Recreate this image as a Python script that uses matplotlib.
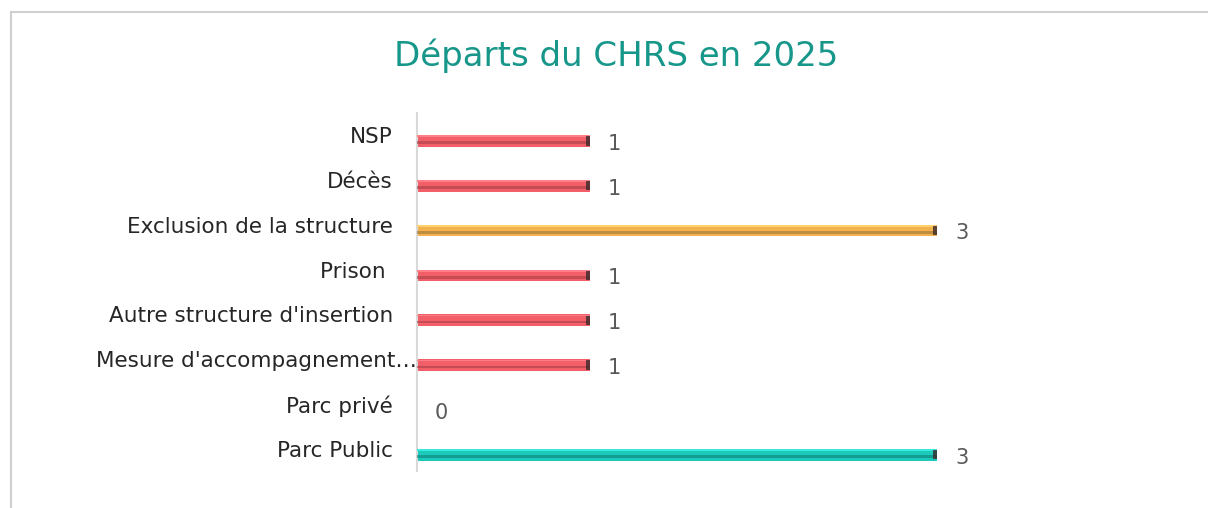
#!/usr/bin/env python3
"""Horizontal bar chart: Départs du CHRS en 2025."""

import matplotlib
matplotlib.use("Agg")
import matplotlib.pyplot as plt
import matplotlib.transforms as mtransforms
from matplotlib.lines import Line2D
from matplotlib.colors import to_rgb

# -------------------------------------------------
# Data (top to bottom as displayed)
# -------------------------------------------------
categories = [
    "NSP",
    "Décès",
    "Exclusion de la structure",
    "Prison ",
    "Autre structure d'insertion",
    "Mesure d'accompagnement…",
    "Parc privé",
    "Parc Public",
]
values = [1, 1, 3, 1, 1, 1, 0, 3]
groups = ["red", "red", "gold", "red", "red", "red", "red", "teal"]

# face colour, dark stripe colour
palette = {
    "red": ("#F25F69", "#A83E47"),
    "gold": ("#F2B24E", "#9E7536"),
    "teal": ("#1CCABC", "#0F7F76"),
}

TITLE = "Départs du CHRS en 2025"
TITLE_COLOR = "#17968A"
TEXT_COLOR = "#262626"
VALUE_COLOR = "#595959"


def main():
    plt.rcParams["font.family"] = ["DejaVu Sans"]

    fig = plt.figure(figsize=(12.08, 5.08), dpi=100)
    ax = fig.add_axes([0.3448, 0.0720, 0.5745, 0.7063])

    n = len(categories)
    pos = list(range(n))
    bar_off = 0.13   # bars sit a little below the label centre
    bar_h = 0.26

    for i, (v, g) in enumerate(zip(values, groups)):
        face, dark = palette[g]
        y = pos[i] + bar_off
        if v > 0:
            # main body
            ax.barh(y, v, height=bar_h, color=face, edgecolor="none", zorder=2)
            # darker lower stripe for the bevel look
            ax.barh(y + 0.04, v, height=0.06, color=dark, edgecolor="none",
                    alpha=0.6, zorder=3)
            # light top edge
            lt = tuple(min(1, c + 0.12) for c in to_rgb(face))
            ax.barh(y - 0.105, v, height=0.04, color=lt, edgecolor="none", zorder=3)
            # dark end cap
            ax.barh(y, 0.025, left=v - 0.025, height=bar_h * 0.8, color="#3a2a2a",
                    edgecolor="none", alpha=0.8, zorder=4)
        ax.annotate(str(v), xy=(v, y), xytext=(13, -2), textcoords="offset points",
                    ha="left", va="center", fontsize=15, color=VALUE_COLOR)

    ax.set_xlim(0, 4)
    ax.set_ylim(n - 0.5, -0.5)
    ax.set_yticks(pos)
    ax.set_yticklabels(categories, fontsize=15.5, color=TEXT_COLOR)
    ax.tick_params(axis="y", length=0, pad=17)
    ax.set_xticks([])

    # the truncated label runs up to the axis line in the reference
    shift = mtransforms.ScaledTranslation(24 / 100, 0, fig.dpi_scale_trans)
    for lbl in ax.get_yticklabels():
        if lbl.get_text().endswith("…"):
            lbl.set_transform(lbl.get_transform() + shift)

    for side in ("top", "right", "bottom"):
        ax.spines[side].set_visible(False)
    ax.spines["left"].set_color("#D9D9D9")
    ax.spines["left"].set_linewidth(1.5)

    fig.text(616 / 1208, 1 - 66 / 508, TITLE, ha="center", va="baseline",
             fontsize=24.5, color=TITLE_COLOR)

    # chart frame (partly cropped in the reference)
    fx0 = 10.5 / 1208
    fy0 = 1 - 11.5 / 508
    fig.add_artist(Line2D([fx0, 1.0], [fy0, fy0], transform=fig.transFigure,
                          color="#CFCFCF", linewidth=1.5))
    fig.add_artist(Line2D([fx0, fx0], [0.0, fy0], transform=fig.transFigure,
                          color="#CFCFCF", linewidth=1.5))

    fig.savefig("out.png", dpi=100, facecolor="white")
    plt.close(fig)


if __name__ == "__main__":
    main()
